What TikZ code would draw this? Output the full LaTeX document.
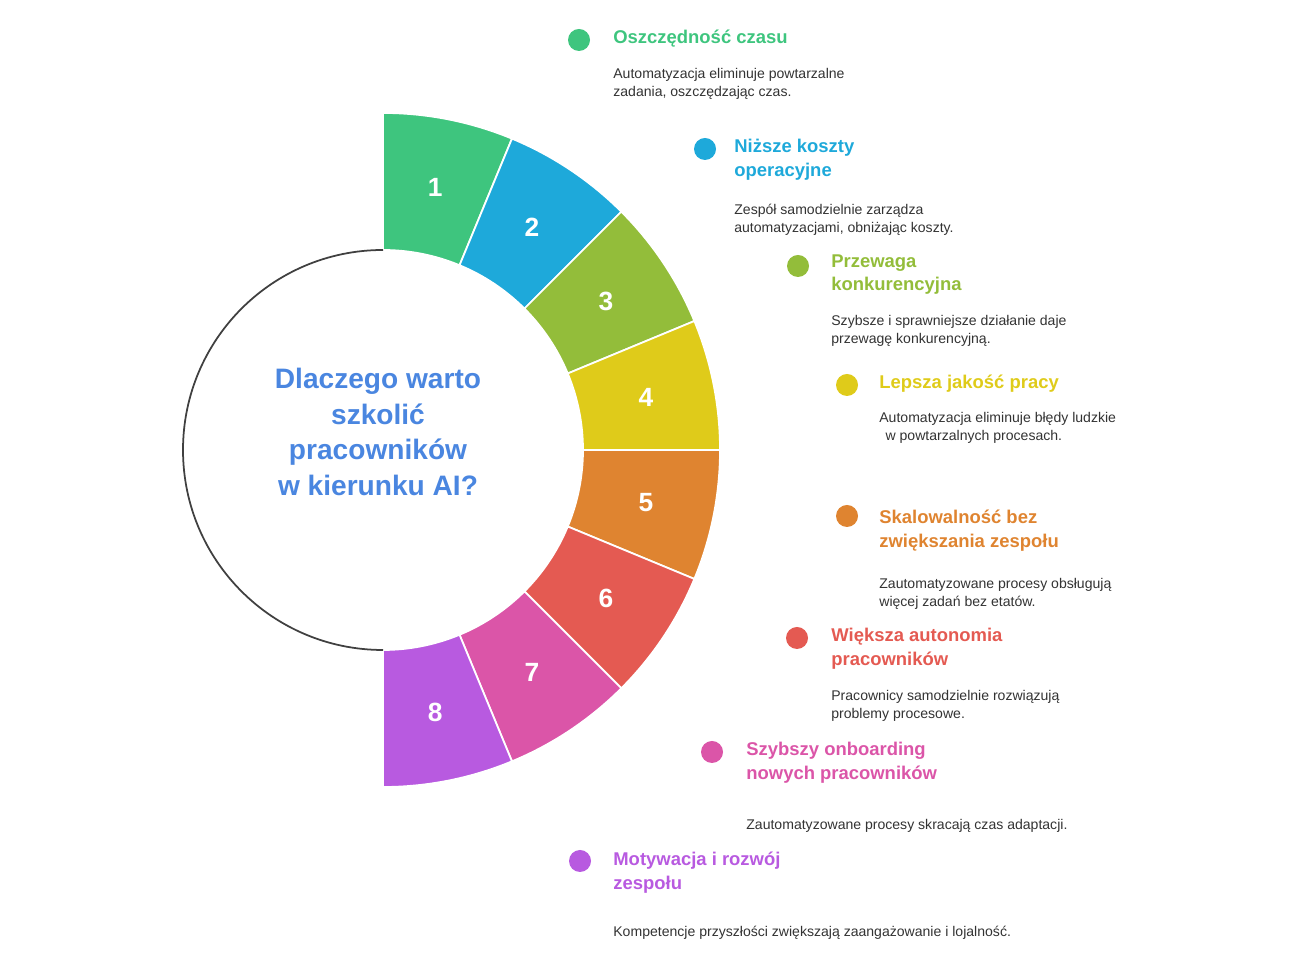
\documentclass[tikz,border=0pt]{standalone}
\usepackage{fontspec}
\setmainfont{Liberation Sans}
\usepackage{tikz}
\usetikzlibrary{calc}
\definecolor{cA}{HTML}{3EC57E}
\definecolor{cB}{HTML}{1EA9DA}
\definecolor{cC}{HTML}{93BD3A}
\definecolor{cD}{HTML}{DFCB1A}
\definecolor{cE}{HTML}{DF8430}
\definecolor{cF}{HTML}{E45A52}
\definecolor{cG}{HTML}{DB55A8}
\definecolor{cH}{HTML}{B85AE0}
\definecolor{titleblue}{HTML}{4A86E0}
\newcommand{\Rin}{200}
\newcommand{\Rout}{337}
% one legend entry: name, colour, dot x, dot y, text x, title top, desc top, title, desc
\newcommand{\benefit}[9]{%
  \fill[#2] (#3,#4) circle (11);
  \node[benefittitle,text=#2] (#1t) at (#5,#6) {#8};
  \node[benefitdesc] (#1d) at (#5,#7) {#9};
}
\tikzset{
  benefittitle/.style={anchor=north west,align=left,inner sep=0pt,
    font=\fontsize{10.5}{13.6}\selectfont\bfseries},
  benefitdesc/.style={anchor=north west,align=left,inner sep=0pt,text=black!80,
    font=\fontsize{8}{10.2}\selectfont},
  segnum/.style={text=white,font=\fontsize{15}{18}\selectfont\bfseries}
}
\begin{document}
\begin{tikzpicture}[x=0.02cm,y=0.02cm]
\useasboundingbox (0,0) rectangle (1297,972);
\coordinate (O) at (383,522);

% ring segments
\foreach \i/\c in {1/cA,2/cB,3/cC,4/cD,5/cE,6/cF,7/cG,8/cH}{
  \pgfmathsetmacro{\a}{90-22.5*(\i-1)}
  \pgfmathsetmacro{\b}{90-22.5*\i}
  \pgfmathsetmacro{\m}{90-22.5*(\i-0.5)}
  \fill[\c,draw=white,line width=1pt] ($(O)+(\a:\Rin)$) -- ($(O)+(\a:\Rout)$)
    arc[start angle=\a,end angle=\b,radius=\Rout] -- ($(O)+(\b:\Rin)$)
    arc[start angle=\b,end angle=\a,radius=\Rin] -- cycle;
  \node[segnum] (n\i) at ($(O)+(\m:268)$) {\i};
}
\draw[black!75,line width=1pt] ($(O)+(90:\Rin)$) arc[start angle=90,end angle=270,radius=\Rin];
\node[text=titleblue,align=center,font=\fontsize{16}{20.4}\selectfont\bfseries] (title) at (378,540)
  {Dlaczego warto\\szkolić\\pracowników\\w kierunku AI?};

% legend
\benefit{a}{cA}{579}{932}{613}{942}{904}{Oszczędność czasu}{Automatyzacja eliminuje powtarzalne\\zadania, oszczędzając czas.}
\benefit{b}{cB}{705}{823}{734}{833}{768}{Niższe koszty\\operacyjne}{Zespół samodzielnie zarządza\\automatyzacjami, obniżając koszty.}
\benefit{c}{cC}{798}{706}{831}{718}{657}{Przewaga\\konkurencyjna}{Szybsze i sprawniejsze działanie daje\\przewagę konkurencyjną.}
\benefit{d}{cD}{847}{587}{879}{597}{560}{Lepsza jakość pracy}{Automatyzacja eliminuje błędy ludzkie\\\ \,w powtarzalnych procesach.}
\benefit{e}{cE}{847}{456}{879}{462}{394}{Skalowalność bez\\zwiększania zespołu}{Zautomatyzowane procesy obsługują\\więcej zadań bez etatów.}
\benefit{f}{cF}{797}{334}{831}{344}{282}{Większa autonomia\\pracowników}{Pracownicy samodzielnie rozwiązują\\problemy procesowe.}
\benefit{g}{cG}{712}{220}{746}{230}{153}{Szybszy onboarding\\nowych pracowników}{Zautomatyzowane procesy skracają czas adaptacji.}
\benefit{h}{cH}{580}{111}{613}{120}{46}{Motywacja i rozwój\\zespołu}{Kompetencje przyszłości zwiększają zaangażowanie i lojalność.}
\end{tikzpicture}
\end{document}
